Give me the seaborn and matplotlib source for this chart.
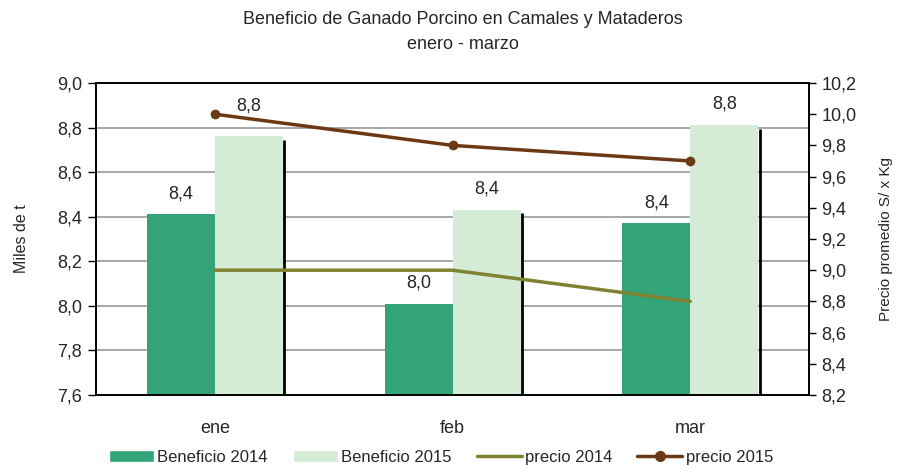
import numpy as np
import pandas as pd
import seaborn as sns
import matplotlib.pyplot as plt
from matplotlib.patches import Patch
from matplotlib.lines import Line2D

# data
meses = ["ene", "feb", "mar"]
benef_2014 = [8.41, 8.01, 8.37]
benef_2015 = [8.76, 8.43, 8.81]
precio_2014 = [9.00, 9.00, 8.80]
precio_2015 = [10.00, 9.80, 9.70]
series = ["Beneficio 2014", "Beneficio 2015"]

c14 = "#33a477"
c15 = "#d4ebd5"
cp14 = "#7f8232"
cp15 = "#6b3a14"

sns.set_style("white")
plt.rcParams["font.family"] = ["Liberation Sans", "DejaVu Sans"]

df = pd.DataFrame({
    "mes": meses * 2,
    "valor": benef_2014 + benef_2015,
    "serie": [series[0]] * 3 + [series[1]] * 3,
})

fig, ax = plt.subplots(figsize=(9, 4.75), dpi=100)
fig.subplots_adjust(left=0.1067, right=0.899, top=0.8253, bottom=0.1684)

sns.barplot(data=df, x="mes", y="valor", hue="serie", order=meses,
            hue_order=series, palette=[c14, c15], width=0.572, saturation=1,
            linewidth=0, ax=ax, legend=False)
ax.set_ylim(7.6, 9.0)
ax.set_xlim(-0.5, 2.5)
yt = np.arange(7.6, 9.01, 0.2)
ax.set_yticks(yt)
ax.set_yticklabels([f"{v:.1f}".replace(".", ",") for v in yt])
ax.yaxis.grid(True, color="#9a9a9a", linewidth=1.2)
ax.set_axisbelow(True)

bw = 0.286
xs = np.arange(len(meses))
# shadow on 2015 bars
ax.vlines(xs + bw + 0.006, 7.6, np.array(benef_2015) - 0.015, color="black", linewidth=2, zorder=1.5)

# labels (the first 2015 label sits a bit higher, clear of the price line)
for i in range(3):
    ax.annotate(f"{benef_2014[i]:.1f}".replace(".", ","), (i - bw / 2, benef_2014[i]),
                xytext=(0, 15), textcoords="offset points", ha="center", va="center", fontsize=13)
    ax.annotate(f"{benef_2015[i]:.1f}".replace(".", ","), (i + bw / 2, benef_2015[i]),
                xytext=(0, 22 if i == 0 else 15), textcoords="offset points",
                ha="center", va="center", fontsize=13)

# x ticks: marks at boundaries, labels at centers
ax.set_xticks([0.5, 1.5])
ax.set_xticklabels([])
ax.set_xticks(xs, minor=True)
ax.set_xticklabels(meses, minor=True)
ax.tick_params(axis="x", which="major", length=6, width=1, color="black", direction="out")
ax.tick_params(axis="x", which="minor", length=0, pad=18, labelsize=13)
ax.tick_params(axis="y", length=6, width=1, color="black", direction="out", labelsize=13, pad=4)
ax.set_xlabel("")
ax.set_ylabel("Miles de t", fontsize=11.5, labelpad=20)
for s in ax.spines.values():
    s.set_color("black")
    s.set_linewidth(1.2)

ax2 = ax.twinx()
sns.lineplot(x=xs, y=precio_2014, ax=ax2, color=cp14, linewidth=2.5)
sns.lineplot(x=xs, y=precio_2015, ax=ax2, color=cp15, linewidth=2.5,
             marker="o", markersize=7, markeredgewidth=0)
ax2.set_ylim(8.2, 10.2)
yt2 = np.arange(8.2, 10.21, 0.2)
ax2.set_yticks(yt2)
ax2.set_yticklabels([f"{v:.1f}".replace(".", ",") for v in yt2])
ax2.tick_params(axis="y", length=5, width=1, color="black", direction="out", labelsize=13, pad=4)
ax2.set_ylabel("Precio promedio S/ x Kg", fontsize=11, labelpad=16)
ax2.set_xlim(-0.5, 2.5)
for s in ax2.spines.values():
    s.set_color("black")
    s.set_linewidth(1.2)

fig.text(0.514, 0.958, "Beneficio de Ganado Porcino en Camales y Mataderos",
         ha="center", va="center", fontsize=13)
fig.text(0.514, 0.907, "enero - marzo", ha="center", va="center", fontsize=13)

handles = [
    Patch(facecolor=c14, label="Beneficio 2014"),
    Patch(facecolor=c15, label="Beneficio 2015"),
    Line2D([], [], color=cp14, linewidth=2.5, label="precio 2014"),
    Line2D([], [], color=cp15, linewidth=2.5, marker="o", markersize=7, label="precio 2015"),
]
fig.legend(handles=handles, loc="lower center", bbox_to_anchor=(0.49, -0.01), ncol=4,
           frameon=False, fontsize=12, handlelength=2.7, handletextpad=0.2, columnspacing=1.5)

fig.savefig("out.png", dpi=100)
